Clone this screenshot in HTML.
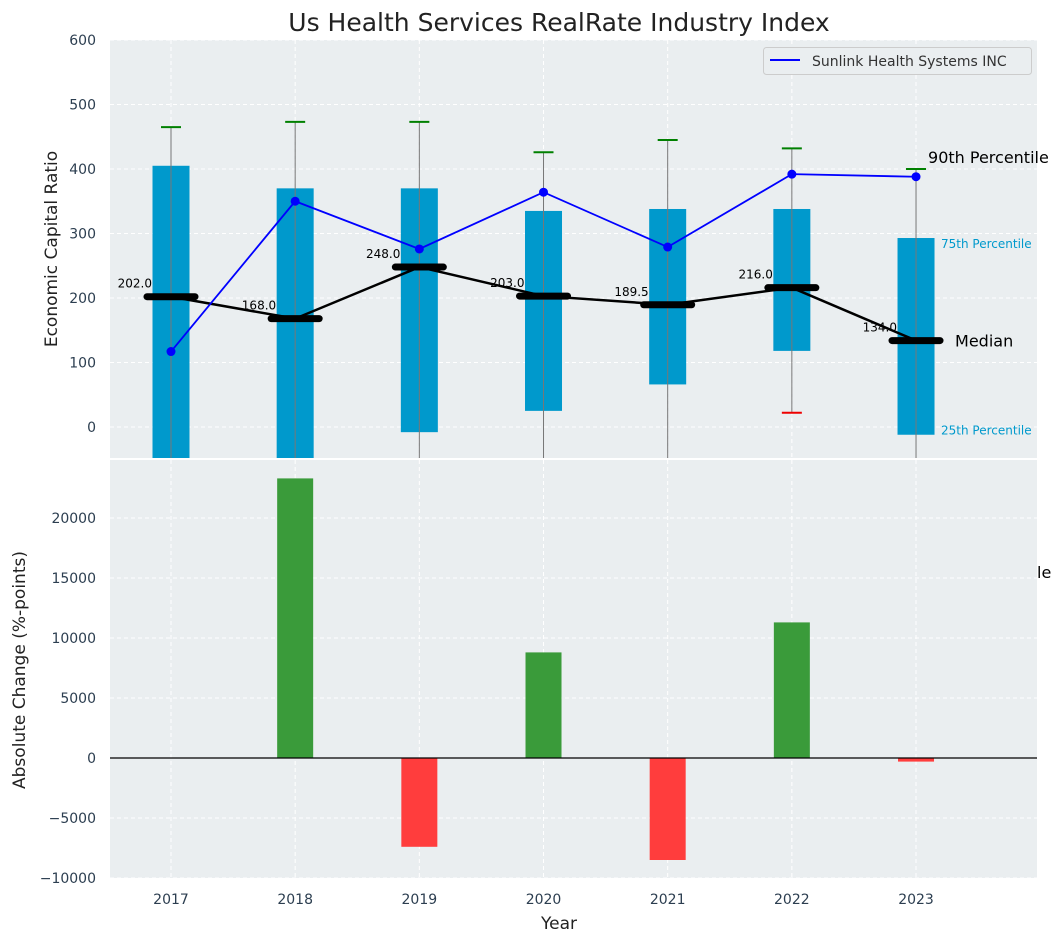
<!DOCTYPE html>
<html><head><meta charset="utf-8">
<style>
html,body{margin:0;padding:0;background:#fff;}
svg{display:block;font-family:"DejaVu Sans","Liberation Sans",sans-serif;}
</style></head>
<body>
<svg id="chart" width="1063" height="942" viewBox="0 0 1063 942" xmlns="http://www.w3.org/2000/svg">
<text x="559" y="31" font-size="25" text-anchor="middle" fill="#222">Us Health Services RealRate Industry Index</text>
<rect x="110" y="40" width="927" height="418" fill="#eaeef0"/>
<rect x="110" y="460" width="927" height="418" fill="#eaeef0"/>
<g id="g"></g>
</svg>
<script>
const years=[2017,2018,2019,2020,2021,2022,2023];
const p25=[-60,-60,-8,25,66,118,-12];
const p75=[405,370,370,335,338,338,293];
const p90=[465,473,473,426,445,432,400];
const p10=[-100,-100,-100,-100,-100,22,-100];
const medians=[202,168,248,203,189.5,216,134];
const company=[117,350,276,364,279,392,388];
const changes=[0,23300,-7400,8800,-8500,11300,-300];
const topTicks=[0,100,200,300,400,500,600];
const botTicks=[-10000,-5000,0,5000,10000,15000,20000];

const NS="http://www.w3.org/2000/svg";
const g=document.getElementById('g');
function mk(t,a,txt){const e=document.createElementNS(NS,t);for(const k in a)e.setAttribute(k,a[k]);if(txt!==undefined)e.textContent=txt;g.appendChild(e);return e;}
const X=yr=>171+(yr-2017)*124.17;
const Yt=v=>427-v*0.645;
const Yb=v=>758-v*0.012;
const clipT=v=>Math.max(40,Math.min(458,Yt(v)));

years.forEach(yr=>{
 let e=mk('line',{x1:X(yr),x2:X(yr),y1:40,y2:458,stroke:'#fff','stroke-dasharray':'4,3','stroke-width':1});
 
 e=mk('line',{x1:X(yr),x2:X(yr),y1:460,y2:878,stroke:'#fff','stroke-dasharray':'4,3','stroke-width':1});
 
 e=mk('text',{x:X(yr),y:904,'font-size':14,'text-anchor':'middle',fill:'#2c3e50'},String(yr));
 
});
topTicks.forEach(v=>{
 let e=mk('line',{x1:110,x2:1037,y1:Yt(v),y2:Yt(v),stroke:'#fff','stroke-dasharray':'4,3'});
 
 e=mk('text',{x:96,y:Yt(v)+5,'font-size':14,'text-anchor':'end',fill:'#2c3e50'},String(v));
 
});
botTicks.forEach(v=>{
 let e=mk('line',{x1:110,x2:1037,y1:Yb(v),y2:Yb(v),stroke:'#fff','stroke-dasharray':'4,3'});
 
 e=mk('text',{x:96,y:Yb(v)+5,'font-size':14,'text-anchor':'end',fill:'#2c3e50'},(v<0?'\u2212':'')+Math.abs(v));
 
});

years.forEach((yr,i)=>{
 const t=clipT(p75[i]),b=clipT(p25[i]);
 let e=mk('rect',{x:X(yr)-18.5,y:t,width:37,height:b-t,fill:'#0099cc'});
 
 e=mk('line',{x1:X(yr),x2:X(yr),y1:clipT(p90[i]),y2:clipT(p10[i]),stroke:'#777','stroke-width':1});
 
 e=mk('line',{x1:X(yr)-10,x2:X(yr)+10,y1:Yt(p90[i]),y2:Yt(p90[i]),stroke:'#008000','stroke-width':2});
 
 if(Yt(p10[i])<458){
  e=mk('line',{x1:X(yr)-10,x2:X(yr)+10,y1:Yt(p10[i]),y2:Yt(p10[i]),stroke:'#e00','stroke-width':2});
  
 }
});
let mp=mk('polyline',{points:years.map((yr,i)=>X(yr)+','+Yt(medians[i])).join(' '),fill:'none',stroke:'#000','stroke-width':2.5});

years.forEach((yr,i)=>{
 let e=mk('line',{x1:X(yr)-24,x2:X(yr)+24,y1:Yt(medians[i]),y2:Yt(medians[i]),stroke:'#000','stroke-width':7,'stroke-linecap':'round'});
 
 e=mk('text',{x:X(yr)-19,y:Yt(medians[i])-9,'font-size':12,'text-anchor':'end',fill:'#000'},medians[i].toFixed(1));
 
});
let cl=mk('polyline',{points:years.map((yr,i)=>X(yr)+','+Yt(company[i])).join(' '),fill:'none',stroke:'#0000ff','stroke-width':1.8});

years.forEach((yr,i)=>{
 const e=mk('circle',{cx:X(yr),cy:Yt(company[i]),r:4.5,fill:'#0000ff'});
 
});
const L=X(2023);
let a=mk('text',{x:L+12,y:Yt(p90[6])-6,'font-size':16,fill:'#000'},'90th Percentile');
a=mk('text',{x:L+25,y:Yt(p75[6])+10,'font-size':12,fill:'#0099cc'},'75th Percentile');
a=mk('text',{x:L+39,y:Yt(medians[6])+6,'font-size':16,fill:'#000'},'Median');
a=mk('text',{x:L+25,y:Yt(p25[6])+0,'font-size':12,fill:'#0099cc'},'25th Percentile');
a=mk('text',{x:1037,y:578,'font-size':16,fill:'#000'},'le');

years.forEach((yr,i)=>{
 const v=changes[i];if(v===0)return;
 const y1=Yb(Math.max(v,0)),y2=Yb(Math.min(v,0));
 const e=mk('rect',{x:X(yr)-18,y:y1,width:36,height:y2-y1,fill:v>0?'#3a9b3a':'#ff3d3d'});
 
});
let z=mk('line',{x1:110,x2:1037,y1:Yb(0),y2:Yb(0),stroke:'#000','stroke-width':1.3});


let lg=mk('rect',{x:763.5,y:47.5,width:268,height:27,rx:3,fill:'#eaeef0',stroke:'#ccc'});

lg=mk('line',{x1:770,x2:800,y1:60,y2:60,stroke:'#0000ff','stroke-width':2});

lg=mk('text',{x:812,y:66,'font-size':14,fill:'#333'},'Sunlink Health Systems INC');


let t=mk('text',{x:559,y:929,'font-size':17,'text-anchor':'middle',fill:'#222'},'Year');

t=mk('text',{x:0,y:0,'font-size':17,'text-anchor':'middle',fill:'#222',transform:'translate(57,249) rotate(-90)'},'Economic Capital Ratio');

t=mk('text',{x:0,y:0,'font-size':17,'text-anchor':'middle',fill:'#222',transform:'translate(25,670) rotate(-90)'},'Absolute Change (%-points)');

</script>
</body></html>
